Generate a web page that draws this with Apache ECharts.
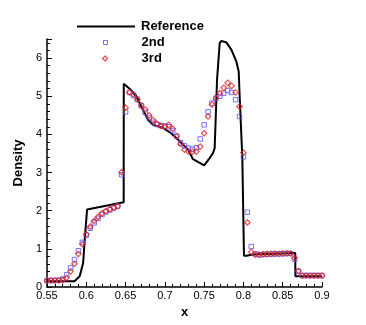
<!DOCTYPE html>
<html>
<head>
<meta charset="utf-8">
<script src="https://cdn.jsdelivr.net/npm/echarts@6/dist/echarts.min.js"></script>
<style>
  html, body { margin: 0; padding: 0; background: #fff; }
  #main { width: 366px; height: 325px; }
</style>
</head>
<body>
<div id="main"></div>
<script>
// reference solution
const refX = [0.55, 0.585, 0.5916, 0.596, 0.598, 0.601, 0.6035, 0.6476, 0.6477, 0.6565, 0.6637, 0.67, 0.6786, 0.685, 0.6976, 0.708, 0.7189, 0.7295, 0.7358, 0.75, 0.757, 0.7613, 0.7634, 0.7664, 0.7698, 0.772, 0.7783, 0.7846, 0.791, 0.794, 0.7952, 0.7986, 0.8007, 0.8037, 0.812, 0.866, 0.8661, 0.9];
const refY = [0.15, 0.15, 0.28, 0.63, 1.24, 2.03, 2.01, 2.22, 5.33, 5.17, 5.0, 4.73, 4.38, 4.25, 4.17, 4.03, 3.82, 3.6, 3.35, 3.19, 3.38, 3.51, 3.64, 5.43, 6.39, 6.45, 6.41, 6.22, 5.91, 5.65, 5.0, 3.38, 0.82, 0.82, 0.85, 0.89, 0.28, 0.28];

// cell positions of the numerical solutions
const cellX = [0.55, 0.555, 0.56, 0.565, 0.57, 0.575, 0.58, 0.585, 0.59, 0.595, 0.6, 0.605, 0.61, 0.615, 0.62, 0.625, 0.63, 0.635, 0.64, 0.645,
  0.65, 0.655, 0.66, 0.665, 0.67, 0.675, 0.68, 0.685, 0.69, 0.695, 0.7, 0.705, 0.71, 0.715, 0.72, 0.725, 0.73, 0.735, 0.74, 0.745,
  0.75, 0.755, 0.76, 0.765, 0.77, 0.775, 0.78, 0.785, 0.79, 0.795, 0.8, 0.805, 0.81, 0.815, 0.82, 0.825, 0.83, 0.835, 0.84, 0.845,
  0.85, 0.855, 0.86, 0.865, 0.87, 0.875, 0.88, 0.885, 0.89, 0.895, 0.9];
const second = [0.17, 0.17, 0.17, 0.18, 0.21, 0.32, 0.5, 0.72, 0.95, 1.17, 1.36, 1.54, 1.68, 1.8, 1.9, 1.97, 2.02, 2.07, 2.12, 2.94,
  4.59, 5.1, 5.02, 4.92, 4.75, 4.58, 4.44, 4.32, 4.26, 4.23, 4.22, 4.2, 4.1, 3.95, 3.78, 3.7, 3.64, 3.61, 3.65, 3.88,
  4.25, 4.59, 4.82, 4.95, 5.0, 5.08, 5.15, 5.1, 4.91, 4.47, 3.41, 1.96, 1.06, 0.87, 0.84, 0.85, 0.86, 0.86, 0.87, 0.87,
  0.87, 0.88, 0.88, 0.73, 0.41, 0.3, 0.3, 0.3, 0.3, 0.3, 0.3];
const third = [0.17, 0.17, 0.17, 0.17, 0.18, 0.24, 0.41, 0.61, 0.87, 1.12, 1.38, 1.58, 1.73, 1.84, 1.93, 1.99, 2.04, 2.08, 2.12, 3.01,
  4.7, 5.1, 5.05, 4.92, 4.76, 4.65, 4.5, 4.38, 4.28, 4.22, 4.2, 4.25, 4.15, 3.95, 3.75, 3.6, 3.55, 3.54, 3.55, 3.68,
  4.03, 4.47, 4.78, 4.95, 5.08, 5.22, 5.35, 5.27, 5.1, 4.73, 3.52, 1.69, 0.92, 0.85, 0.85, 0.86, 0.86, 0.87, 0.87, 0.87,
  0.88, 0.88, 0.88, 0.76, 0.42, 0.3, 0.3, 0.3, 0.3, 0.3, 0.3];

const xTicks = { min: 0.55, max: 0.9, interval: 0.05 };
const yTicks = { min: 0, max: 6.5, interval: 1 };

const pair = (xs, ys) => xs.map((x, i) => [x, ys[i]]);

const chart = echarts.init(document.getElementById('main'), null, { renderer: 'canvas' });

const font = 'Liberation Sans, Arial, Helvetica, sans-serif';
const legendText = (pad) => ({ fontFamily: font, fontWeight: 'bold', fontSize: 13, color: '#000', padding: [0, 0, 0, pad] });

const option = {
  animation: false,
  backgroundColor: '#fff',
  grid: { left: 47, right: 44, top: 39, bottom: 38 },
  legend: [
    { data: [{ name: 'Reference', icon: 'rect' }], left: 72, top: 15, itemWidth: 58, itemHeight: 2,
      itemStyle: { color: '#000' }, textStyle: legendText(1), selectedMode: false },
    { data: [{ name: '2nd', icon: 'rect' }], left: 98, top: 31, itemWidth: 4, itemHeight: 4,
      itemStyle: { color: '#fff', borderColor: '#5050ff', borderWidth: 1 }, textStyle: legendText(29), selectedMode: false },
    { data: [{ name: '3rd', icon: 'diamond' }], left: 97, top: 47, itemWidth: 5, itemHeight: 5,
      itemStyle: { color: '#fff', borderColor: '#e02020', borderWidth: 1.2 }, textStyle: legendText(29), selectedMode: false }
  ],
  xAxis: {
    type: 'value',
    min: xTicks.min,
    max: xTicks.max,
    interval: xTicks.interval,
    name: 'x',
    nameLocation: 'middle',
    nameGap: 12,
    nameTextStyle: { fontFamily: font, fontWeight: 'bold', fontSize: 13, color: '#000' },
    axisLine: { lineStyle: { color: '#000', width: 1.5 } },
    axisTick: { inside: true, length: 5, lineStyle: { color: '#000' } },
    minorTick: { show: true, splitNumber: 5, length: 3, lineStyle: { color: '#000' } },
    splitLine: { show: false },
    axisLabel: { fontFamily: font, fontSize: 11, color: '#000', margin: 3,
      formatter: v => String(+v.toFixed(2)) }
  },
  yAxis: {
    type: 'value',
    min: yTicks.min,
    max: yTicks.max,
    interval: yTicks.interval,
    name: 'Density',
    nameLocation: 'middle',
    nameGap: 20,
    nameRotate: 90,
    nameTextStyle: { fontFamily: font, fontWeight: 'bold', fontSize: 13, color: '#000' },
    axisLine: { show: true, lineStyle: { color: '#000', width: 1.5 } },
    axisTick: { show: true, inside: true, length: 5, lineStyle: { color: '#000' } },
    minorTick: { show: true, splitNumber: 5, length: 3, lineStyle: { color: '#000' } },
    splitLine: { show: false },
    axisLabel: { fontFamily: font, fontSize: 11, color: '#000', margin: 5, showMaxLabel: false,
      formatter: v => (Number.isInteger(v) ? String(v) : '') }
  },
  series: [
    {
      name: 'Reference',
      type: 'line',
      data: pair(refX, refY),
      symbol: 'none',
      lineStyle: { color: '#000', width: 2 },
      itemStyle: { color: '#000' },
      z: 1
    },
    {
      name: '2nd',
      type: 'scatter',
      data: pair(cellX, second),
      symbol: 'rect',
      symbolSize: 4.5,
      itemStyle: { color: 'rgba(255,255,255,0)', borderColor: '#5050ff', borderWidth: 1 },
      z: 2
    },
    {
      name: '3rd',
      type: 'scatter',
      data: pair(cellX, third),
      symbol: 'diamond',
      symbolSize: 5.5,
      itemStyle: { color: 'rgba(255,255,255,0)', borderColor: '#e02020', borderWidth: 1.2 },
      z: 3
    }
  ]
};

chart.setOption(option);
</script>
</body>
</html>
